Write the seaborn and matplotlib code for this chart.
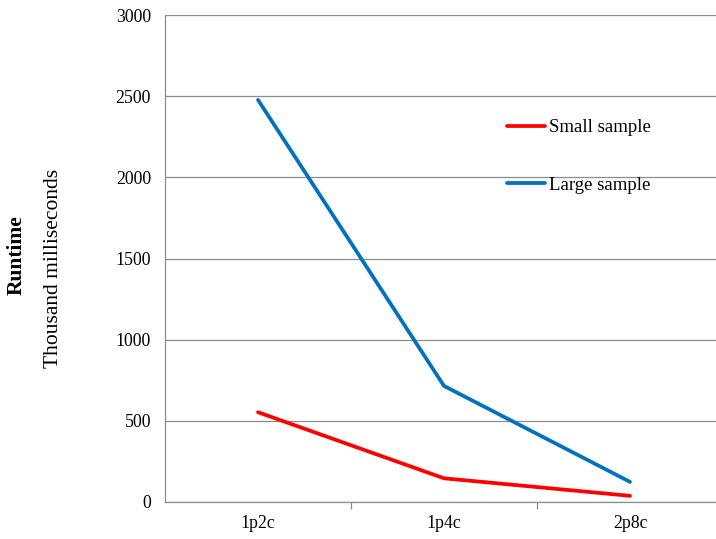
import matplotlib
matplotlib.use("Agg")
import matplotlib.pyplot as plt
import seaborn as sns
import pandas as pd
from matplotlib.lines import Line2D

configs = ["1p2c", "1p4c", "2p8c"]
small_sample = [553, 146, 38]
large_sample = [2477, 715, 124]
y_ticks = [0, 500, 1000, 1500, 2000, 2500, 3000]

df = pd.DataFrame({
    "config": configs * 2,
    "runtime": small_sample + large_sample,
    "series": ["Small sample"] * 3 + ["Large sample"] * 3,
})

sns.set_style("white")
plt.rcParams["font.family"] = ["Liberation Serif", "DejaVu Serif"]
plt.rcParams["text.color"] = "black"
plt.rcParams["xtick.labelcolor"] = "black"
plt.rcParams["ytick.labelcolor"] = "black"

W, H = 716, 539
fig = plt.figure(figsize=(W / 100, H / 100), dpi=100)
ax = fig.add_axes([165 / W, (H - 502) / H, (723 - 165) / W, 487 / H])

sns.lineplot(data=df, x="config", y="runtime", hue="series",
             palette={"Small sample": "#FF0000", "Large sample": "#0070C0"},
             linewidth=2.7, ax=ax, legend=False, sort=False)

ax.set_xlim(-0.5, 2.5)
ax.set_ylim(0, 3000)
ax.set_yticks(y_ticks)
ax.set_yticklabels([str(v) for v in y_ticks])
ax.yaxis.grid(True, color="#8c8c8c", linewidth=0.9)
ax.set_axisbelow(True)

# category boundaries carry the x tick marks; labels sit at the centres
ax.set_xticks([0.5, 1.5])
ax.set_xticklabels([])
ax.set_xticks([0, 1, 2], minor=True)
ax.set_xticklabels(configs, minor=True)
ax.tick_params(axis="x", which="major", length=5, color="#8c8c8c", width=0.9, direction="out")
ax.tick_params(axis="x", which="minor", length=0, labelsize=12.8, pad=9, labelcolor="black")
ax.tick_params(axis="y", length=5, color="#8c8c8c", width=0.9, labelsize=12.8, pad=5,
               direction="out", labelcolor="black")
ax.tick_params(axis="x", which="both", bottom=True)

for side in ["top", "right"]:
    ax.spines[side].set_visible(False)
for side in ["left", "bottom"]:
    ax.spines[side].set_color("#8c8c8c")
    ax.spines[side].set_linewidth(0.9)
ax.set_xlabel("")
ax.set_ylabel("")

fig.text(17 / W, 1 - 255 / H, "Runtime", rotation=90, ha="center", va="center",
         fontsize=15.5, fontweight="bold", color="black")
fig.text(53 / W, 1 - 268 / H, "Thousand milliseconds", rotation=90, ha="center",
         va="center", fontsize=15.5, color="black")

handles = [Line2D([], [], color="#FF0000", linewidth=2.7),
           Line2D([], [], color="#0070C0", linewidth=2.7)]
leg = fig.legend(handles, ["Small sample", "Large sample"], loc="upper left",
                 bbox_to_anchor=(507 / W, 1 - 119 / H), frameon=False, fontsize=13.5,
                 handlelength=2.05, handletextpad=0.2, labelspacing=2.15,
                 borderpad=0, borderaxespad=0)
for t in leg.get_texts():
    t.set_color("black")

fig.savefig("out.png", dpi=100, facecolor="white")
